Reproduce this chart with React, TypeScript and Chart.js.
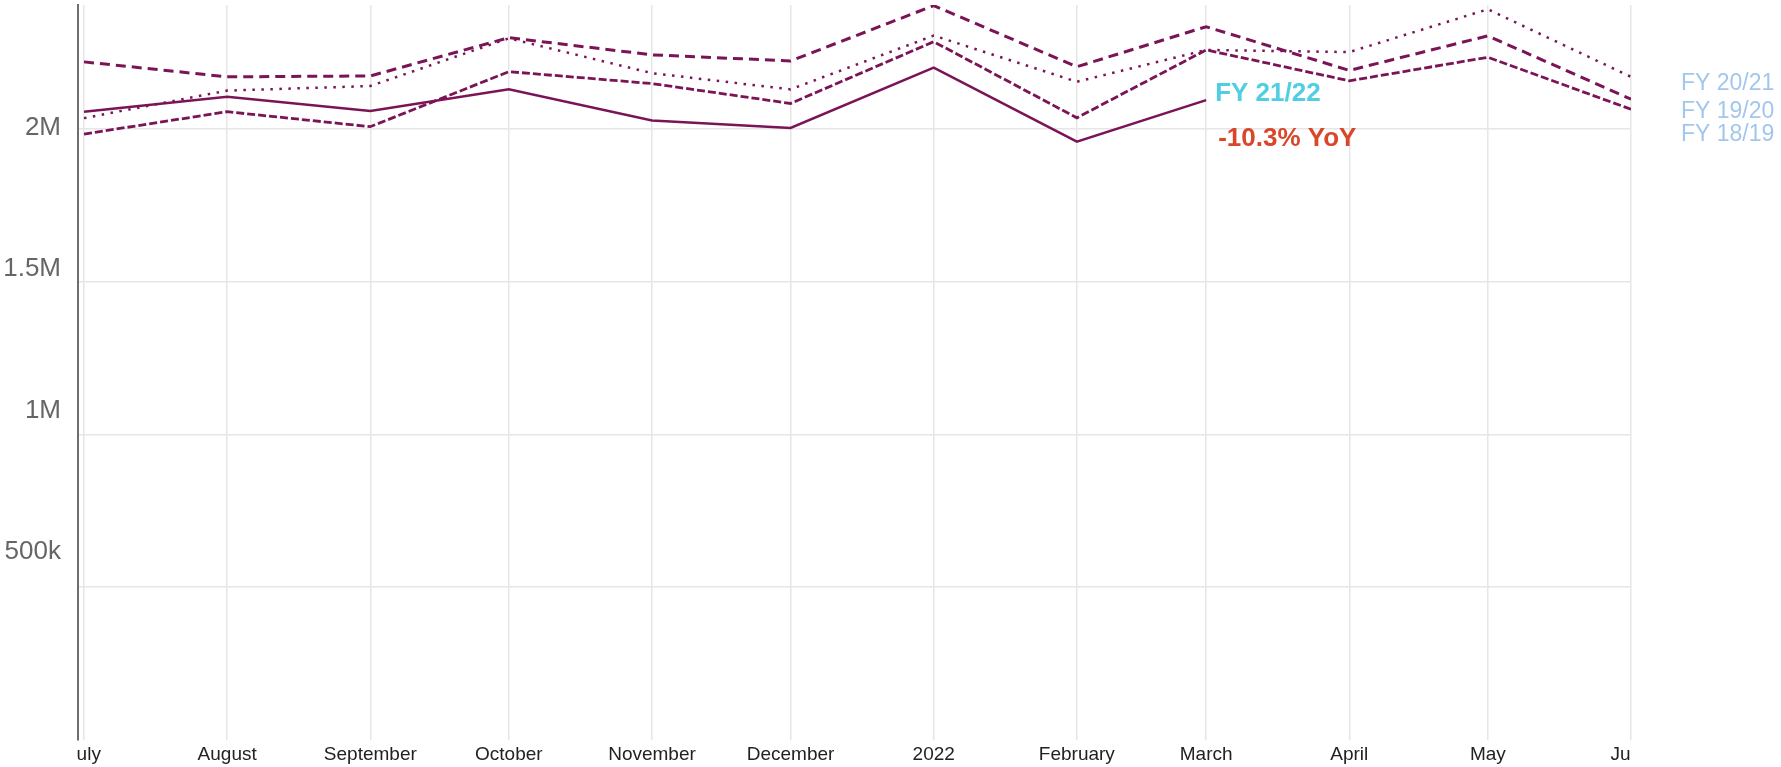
import React, { useEffect, useRef } from 'react';
import { Chart, registerables } from 'chart.js';

Chart.register(...registerables);

// Days since 1 July 2021 for each month start
const monthDays = [0, 31, 62, 92, 123, 153, 184, 215, 243, 274, 304, 335];
const monthLabels = ['July', 'August', 'September', 'October', 'November', 'December', '2022', 'February', 'March', 'April', 'May', 'June'];

const fy2021 = [2218000, 2169000, 2172000, 2297000, 2241000, 2221000, 2402000, 2202000, 2333000, 2190000, 2303000, 2096000];
const fy1920 = [2034000, 2124000, 2139000, 2295000, 2181000, 2128000, 2304000, 2153000, 2257000, 2250000, 2390000, 2169000];
const fy1819 = [1982000, 2055000, 2006000, 2186000, 2147000, 2082000, 2284000, 2035000, 2257000, 2156000, 2233000, 2063000];
const fy2122 = [2055000, 2104000, 2057000, 2128000, 2026000, 2002000, 2199000, 1957000, 2093000];

const yTicks = [500000, 1000000, 1500000, 2000000];
const yTickLabels = ['500k', '1M', '1.5M', '2M'];
const sideLabels = ['FY 20/21', 'FY 19/20', 'FY 18/19'];
const currentLabel = 'FY 21/22';
const yoyText = '-10.3% YoY';

const FONT = "'Liberation Sans', Arial, Helvetica, sans-serif";
const LINE = '#7b1456';

const toPoints = (vals: number[]) => vals.map((v, i) => ({ x: monthDays[i], y: v }));

const noPad = (s: any) => {
  s.paddingTop = 0;
  s.paddingBottom = 0;
  s.paddingLeft = 0;
  s.paddingRight = 0;
};

const annotationPlugin = {
  id: 'annotations',
  afterDraw(chart: any) {
    const { ctx, chartArea, scales } = chart;
    const xs = scales.x;
    ctx.save();
    // x-axis month labels, clipped to plot width
    ctx.save();
    ctx.beginPath();
    ctx.rect(chartArea.left - 2, chartArea.bottom, chartArea.right - chartArea.left + 1, 40);
    ctx.clip();
    ctx.font = `19px ${FONT}`;
    ctx.fillStyle = '#222222';
    ctx.textAlign = 'center';
    ctx.textBaseline = 'middle';
    monthDays.forEach((d, i) => {
      ctx.fillText(monthLabels[i], xs.getPixelForValue(d), chartArea.bottom + 15);
    });
    ctx.restore();

    // current-year annotation at last point of FY 21/22
    const meta = chart.getDatasetMeta(3);
    const last = meta.data[meta.data.length - 1];
    if (last) {
      ctx.font = `bold 26px ${FONT}`;
      ctx.textAlign = 'left';
      ctx.textBaseline = 'middle';
      ctx.fillStyle = '#4fcfe1';
      ctx.fillText(currentLabel, last.x + 9, last.y - 6);
      ctx.fillStyle = '#d8472a';
      ctx.fillText(yoyText, last.x + 12, last.y + 39);
    }

    // side labels
    ctx.font = `23px ${FONT}`;
    ctx.fillStyle = '#a3c7ec';
    ctx.textAlign = 'left';
    ctx.textBaseline = 'middle';
    const offs = [79, 107, 130];
    sideLabels.forEach((t, i) => {
      ctx.fillText(t, chartArea.right + 50, chartArea.top + offs[i]);
    });
    ctx.restore();
  },
};

export default function App() {
  const ref = useRef<HTMLCanvasElement | null>(null);

  useEffect(() => {
    if (!ref.current) return;
    const common = { borderColor: LINE, pointRadius: 0, tension: 0, fill: false, xAxisID: 'x', yAxisID: 'y' };
    const chart = new Chart(ref.current, {
      type: 'line',
      data: {
        datasets: [
          { ...common, label: sideLabels[0], data: toPoints(fy2021), borderWidth: 3, borderDash: [10, 6] },
          { ...common, label: sideLabels[1], data: toPoints(fy1920), borderWidth: 2.5, borderDash: [2.5, 6.5] },
          { ...common, label: sideLabels[2], data: toPoints(fy1819), borderWidth: 2.8, borderDash: [8, 3] },
          { ...common, label: currentLabel, data: toPoints(fy2122), borderWidth: 2.5 },
        ],
      },
      options: {
        animation: false,
        responsive: true,
        maintainAspectRatio: false,
        layout: { padding: { top: 5, right: 150, left: 0, bottom: 0 } },
        plugins: { legend: { display: false }, tooltip: { enabled: false }, title: { display: false } },
        scales: {
          x: {
            type: 'linear',
            min: -1.3,
            max: 335,
            afterBuildTicks: (s: any) => { s.ticks = monthDays.map((d) => ({ value: d })); },
            ticks: { display: false },
            grid: { color: '#e6e6e6', lineWidth: 1.5, drawTicks: false },
            border: { display: false },
            afterFit: (s: any) => { s.height = 27; noPad(s); },
          },
          y: {
            type: 'linear',
            position: 'left',
            weight: 0,
            min: 0,
            max: 2404000,
            afterBuildTicks: (s: any) => { s.ticks = yTicks.map((v) => ({ value: v })); },
            ticks: { display: false },
            grid: { color: '#e6e6e6', lineWidth: 1.5, drawTicks: false },
            border: { display: true, color: '#6e6e6e', width: 2 },
            afterFit: (s: any) => { s.width = 0; noPad(s); },
          },
          y2: {
            type: 'linear',
            position: 'left',
            weight: 1,
            min: -165000,
            max: 2435000,
            afterBuildTicks: (s: any) => { s.ticks = yTicks.map((v) => ({ value: v })); },
            ticks: {
              callback: (v: any) => yTickLabels[yTicks.indexOf(Number(v))] ?? '',
              font: { size: 26, family: FONT },
              color: '#666666',
              padding: 17,
            },
            grid: { display: false, drawTicks: false },
            border: { display: false },
            afterFit: (s: any) => { s.width = 78; noPad(s); },
          },
        },
      } as any,
      plugins: [annotationPlugin],
    });
    return () => chart.destroy();
  }, []);

  return (
    <div style={{ position: 'fixed', left: 0, top: 0, width: 1781, height: 767, background: '#ffffff' }}>
      <canvas ref={ref} />
    </div>
  );
}
